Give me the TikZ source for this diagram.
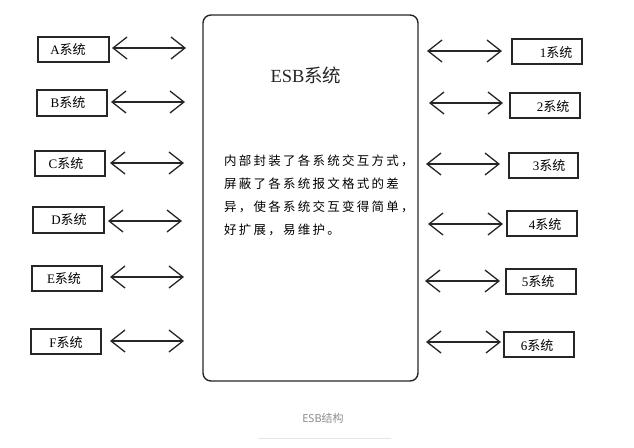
\documentclass[tikz,border=0pt]{standalone}
\usepackage{fontspec}
\setmainfont{Liberation Serif}
\newfontfamily\cjk{Noto Sans CJK SC}
\newfontfamily\cjkbody{Noto Sans CJK SC}[LetterSpace=18]
\usetikzlibrary{arrows.meta}
\begin{document}
\begin{tikzpicture}[x=1pt,y=-1pt,
  sysbox/.style={draw=black!85,line width=1.4pt,inner sep=0pt},
  lbl/.style={inner sep=0pt,font=\fontsize{13}{14}\selectfont,text=black},
  link/.style={line width=1.3pt,draw=black!85,{Straight Barb[length=14pt,width=22pt,line width=1.3pt]}-{Straight Barb[length=14pt,width=22pt,line width=1.3pt]}}]
\useasboundingbox (0,0) rectangle (634,447);
% central ESB box
\draw[line width=1.4pt,draw=black!85,rounded corners=8pt] (203,15) rectangle (418,381);
\node[inner sep=0pt,font=\fontsize{18.5}{20}\selectfont,text=black!85] (title) at (306,75) {ESB{\cjk 系统}};
\node[inner sep=0pt,anchor=north west,align=left,font=\cjkbody\fontsize{12.5}{23}\selectfont,text=black] (body) at (224,155)
 {内部封装了各系统交互方式，\\屏蔽了各系统报文格式的差\\异，使各系统交互变得简单，\\好扩展，易维护。};
% left boxes
\draw[sysbox] (38,37) rectangle (109,62);  \node[lbl] (A) at (68,50) {A{\cjk 系统}};
\draw[sysbox] (37,90) rectangle (107,116); \node[lbl] (B) at (68,103) {B{\cjk 系统}};
\draw[sysbox] (35,151) rectangle (105,176);\node[lbl] (C) at (66,164) {C{\cjk 系统}};
\draw[sysbox] (33,207) rectangle (104,233);\node[lbl] (D) at (69,220) {D{\cjk 系统}};
\draw[sysbox] (32,266) rectangle (102,291);\node[lbl] (E) at (64,279) {E{\cjk 系统}};
\draw[sysbox] (31,329) rectangle (101,354);\node[lbl] (F) at (66,343) {F{\cjk 系统}};
\coordinate (a1) at (112,48);  \coordinate (a2) at (186,48);
\coordinate (b1) at (111,102); \coordinate (b2) at (185,102);
\coordinate (c1) at (110,163); \coordinate (c2) at (184,163);
\coordinate (d1) at (108,221); \coordinate (d2) at (182,221);
\coordinate (e1) at (110,277); \coordinate (e2) at (184,277);
\coordinate (f1) at (110,341); \coordinate (f2) at (184,341);
\draw[link] (a1) -- (a2);
\draw[link] (b1) -- (b2);
\draw[link] (c1) -- (c2);
\draw[link] (d1) -- (d2);
\draw[link] (e1) -- (e2);
\draw[link] (f1) -- (f2);
% right boxes
\draw[sysbox] (512,39) rectangle (582,64);  \node[lbl] (S1) at (556,53) {1{\cjk 系统}};
\draw[sysbox] (510,93) rectangle (580,118); \node[lbl] (S2) at (553,107) {2{\cjk 系统}};
\draw[sysbox] (509,153) rectangle (578,178);\node[lbl] (S3) at (549,166) {3{\cjk 系统}};
\draw[sysbox] (507,211) rectangle (577,236);\node[lbl] (S4) at (545,225) {4{\cjk 系统}};
\draw[sysbox] (506,269) rectangle (576,294);\node[lbl] (S5) at (538,282) {5{\cjk 系统}};
\draw[sysbox] (504,332) rectangle (574,357);\node[lbl] (S6) at (537,346) {6{\cjk 系统}};
\coordinate (r11) at (427,51);  \coordinate (r12) at (502,51);
\coordinate (r21) at (429,103); \coordinate (r22) at (503,103);
\coordinate (r31) at (426,164); \coordinate (r32) at (500,164);
\coordinate (r41) at (428,224); \coordinate (r42) at (503,224);
\coordinate (r51) at (425,281); \coordinate (r52) at (500,281);
\coordinate (r61) at (426,342); \coordinate (r62) at (501,342);
\draw[link] (r11) -- (r12);
\draw[link] (r21) -- (r22);
\draw[link] (r31) -- (r32);
\draw[link] (r41) -- (r42);
\draw[link] (r51) -- (r52);
\draw[link] (r61) -- (r62);
% caption
\node[inner sep=0pt,font=\fontsize{11}{12}\selectfont,text=black!45] (cap) at (323,418) {\fontspec{Noto Sans}ESB{\cjk 结构}};
\coordinate (u1) at (258,438); \coordinate (u2) at (391,438);
\draw[black!10,line width=0.8pt] (u1) -- (u2);
\end{tikzpicture}
\end{document}
